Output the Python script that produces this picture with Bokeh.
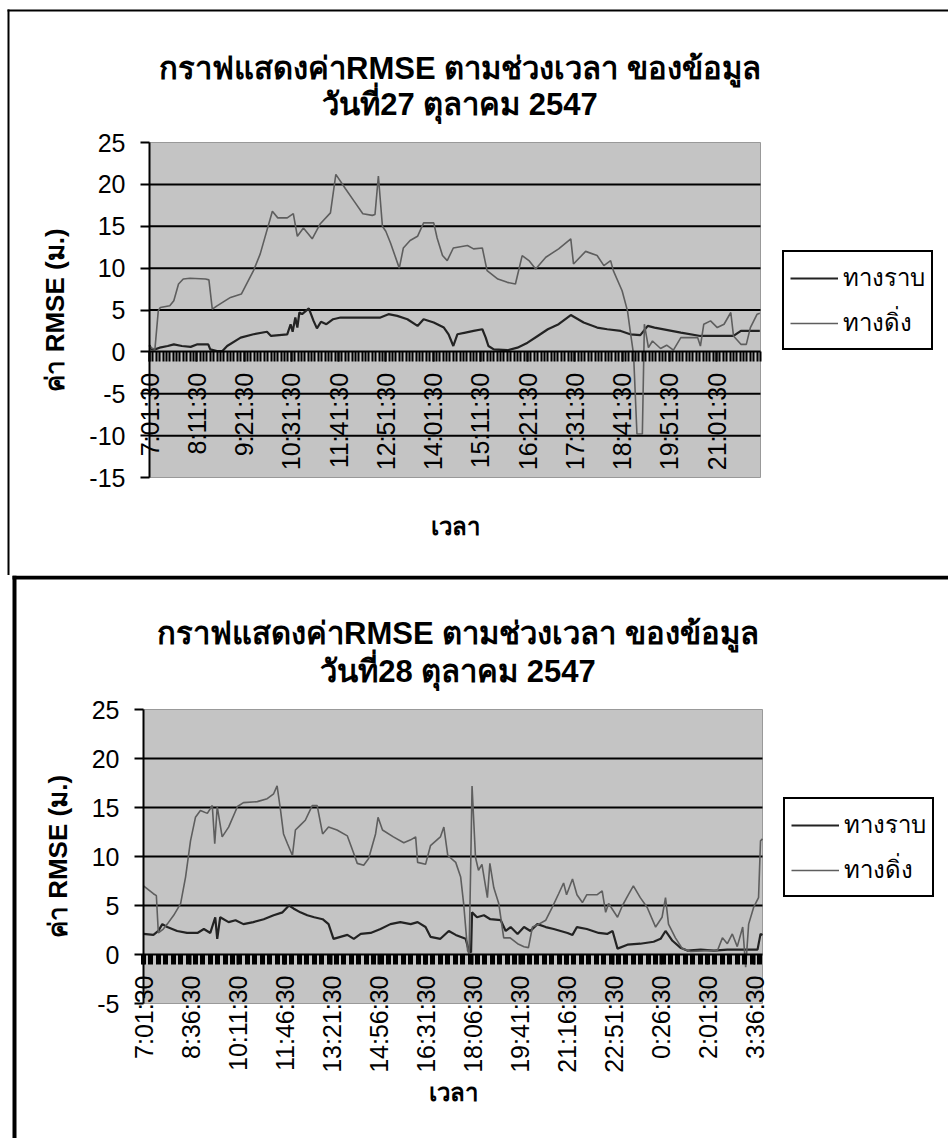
import math
from bokeh.plotting import figure
from bokeh.models import (ColumnDataSource, FixedTicker, Legend, LegendItem,
                          Label, Range1d, BoxAnnotation)
from bokeh.layouts import column
from bokeh.embed import file_html
from bokeh.resources import INLINE

# ---------------------------------------------------------------- text
TITLE_LINE = "กราฟแสดงค่าRMSE ตามช่วงเวลา ของข้อมูล"
TOP_DATE = "วันที่27 ตุลาคม 2547"
BOTTOM_DATE = "วันที่28 ตุลาคม 2547"
Y_LABEL = "ค่า RMSE (ม.)"
X_LABEL = "เวลา"
SERIES_NAMES = ["ทางราบ", "ทางดิ่ง"]

# ---------------------------------------------------------------- 27 Oct (minutes after 7:01:30)
TOP_TICK_LABELS = ["7:01:30", "8:11:30", "9:21:30", "10:31:30", "11:41:30",
                   "12:51:30", "14:01:30", "15:11:30", "16:21:30", "17:31:30",
                   "18:41:30", "19:51:30", "21:01:30"]
TOP_TICK_STEP = 70
TOP_SPAN = 905

top_horiz_t = [0, 3, 8, 15, 27, 36, 48, 61, 71, 87, 90, 100, 108, 115, 135, 154,
               174, 180, 204, 209, 212, 216, 219, 222, 226, 236, 243, 248, 254,
               262, 272, 283, 342, 354, 367, 382, 397, 406, 421, 436, 443, 450,
               456, 468, 480, 493, 498, 502, 510, 530, 545, 560, 575, 590, 606,
               624, 643, 663, 678, 698, 712, 727, 738, 748, 787, 816, 865, 876,
               904]
top_horiz_v = [0.8, 0.3, 0.3, 0.5, 0.7, 0.9, 0.7, 0.6, 0.9, 0.9, 0.3, 0.1, 0.1,
               0.7, 1.7, 2.1, 2.4, 1.9, 2.1, 3.3, 2.4, 4.1, 2.9, 4.7, 4.5, 5.2,
               3.7, 2.8, 3.6, 3.3, 3.9, 4.1, 4.1, 4.5, 4.3, 3.9, 3.1, 3.9, 3.5,
               2.9, 2.1, 0.7, 2.1, 2.3, 2.5, 2.7, 1.7, 0.7, 0.3, 0.2, 0.5, 1.1,
               1.9, 2.7, 3.3, 4.4, 3.5, 2.9, 2.7, 2.5, 2.1, 2.0, 3.1, 2.9, 2.3,
               1.9, 1.9, 2.5, 2.5]

top_vert_t = [0, 2, 8, 13, 16, 30, 36, 43, 50, 60, 83, 88, 93, 100, 110, 120,
              136, 154, 164, 182, 190, 204, 213, 219, 228, 241, 253, 268, 276,
              290, 303, 316, 330, 334, 339, 345, 350, 357, 370, 376, 386, 397,
              406, 421, 426, 434, 441, 450, 471, 480, 493, 500, 516, 530, 542,
              552, 562, 572, 587, 606, 624, 628, 646, 663, 673, 683, 687, 700,
              708, 712, 717, 722, 730, 733, 739, 745, 757, 766, 776, 787, 812,
              816, 821, 831, 841, 851, 861, 865, 876, 884, 890, 900, 904]
top_vert_v = [0.7, 0.5, 0.3, 4.9, 5.3, 5.5, 6.1, 8.1, 8.7, 8.8, 8.7, 8.6, 5.1,
              5.5, 6.0, 6.5, 6.9, 9.7, 11.7, 16.8, 16.0, 16.0, 16.5, 13.8, 14.8,
              13.5, 15.3, 16.6, 21.2, 19.5, 18.0, 16.5, 16.3, 16.4, 21.0, 15.0,
              14.4, 13.0, 10.0, 12.4, 13.3, 13.8, 15.4, 15.4, 13.6, 11.5, 10.9,
              12.4, 12.7, 12.3, 12.4, 9.7, 8.7, 8.3, 8.1, 11.5, 10.9, 9.9, 11.3,
              12.3, 13.5, 10.5, 12.0, 11.5, 10.3, 10.9, 9.7, 7.3, 4.9, 2.5,
              -0.3, -9.8, -9.8, 3.3, 0.5, 1.3, 0.4, 0.8, 0.2, 1.7, 1.7, 0.7,
              3.3, 3.7, 2.9, 3.3, 4.7, 1.9, 0.9, 0.9, 2.9, 4.5, 4.6]

# ---------------------------------------------------------------- 28 Oct (minutes after 7:01:30)
BOTTOM_TICK_LABELS = ["7:01:30", "8:36:30", "10:11:30", "11:46:30", "13:21:30",
                      "14:56:30", "16:31:30", "18:06:30", "19:41:30", "21:16:30",
                      "22:51:30", "0:26:30", "2:01:30", "3:36:30"]
BOTTOM_TICK_STEP = 95
BOTTOM_SPAN = 1251

bot_horiz_t = [0, 20, 30, 38, 48, 68, 88, 109, 122, 135, 145, 149, 155, 172,
               186, 202, 222, 243, 263, 281, 294, 303, 317, 331, 345, 362, 374,
               384, 398, 412, 425, 439, 459, 479, 499, 519, 540, 554, 570, 580,
               600, 617, 631, 651, 657, 662, 664, 674, 688, 701, 722, 732, 742,
               756, 769, 782, 796, 813, 829, 857, 867, 876, 896, 920, 937, 948,
               958, 978, 1004, 1031, 1045, 1055, 1069, 1085, 1099, 1126, 1153,
               1180, 1207, 1241, 1247, 1251]
bot_horiz_v = [2.1, 2.0, 2.4, 3.1, 2.8, 2.4, 2.2, 2.2, 2.6, 2.2, 3.8, 1.6, 3.8,
               3.3, 3.5, 3.1, 3.3, 3.6, 4.0, 4.3, 5.0, 4.7, 4.3, 4.0, 3.8, 3.6,
               3.1, 1.6, 1.8, 2.0, 1.6, 2.1, 2.2, 2.6, 3.1, 3.3, 3.1, 3.3, 2.8,
               1.8, 1.6, 2.4, 2.0, 1.6, 0.5, 0.2, 4.3, 3.8, 4.0, 3.6, 3.5, 2.4,
               2.8, 2.1, 2.8, 2.4, 3.1, 2.8, 2.6, 2.2, 2.0, 2.8, 2.6, 2.2, 2.1,
               2.4, 0.6, 1.0, 1.1, 1.3, 1.6, 2.4, 1.4, 0.7, 0.4, 0.5, 0.4, 0.5,
               0.5, 0.5, 2.1, 2.0]

bot_vert_t = [0, 20, 26, 30, 40, 48, 61, 75, 85, 95, 105, 115, 129, 139, 144,
              149, 159, 172, 190, 202, 230, 250, 263, 270, 277, 283, 291, 301,
              307, 317, 327, 341, 351, 362, 374, 391, 412, 425, 432, 445, 455,
              469, 474, 483, 505, 526, 540, 550, 554, 570, 580, 600, 607, 615,
              631, 641, 647, 655, 658, 661, 664, 671, 677, 684, 695, 700, 708,
              718, 728, 741, 756, 769, 778, 786, 799, 813, 826, 839, 849, 855,
              867, 876, 887, 896, 917, 927, 934, 940, 958, 968, 980, 990, 1004,
              1018, 1035, 1048, 1055, 1061, 1075, 1089, 1106, 1140, 1160, 1170,
              1180, 1190, 1200, 1211, 1217, 1223, 1233, 1243, 1247, 1251]
bot_vert_v = [7.0, 6.2, 6.0, 2.2, 2.6, 3.1, 4.0, 5.2, 7.9, 11.6, 14.0, 14.7,
              14.4, 15.2, 11.3, 15.1, 12.0, 13.0, 15.1, 15.5, 15.6, 15.9, 16.4,
              17.2, 14.7, 12.3, 11.3, 10.1, 12.7, 13.2, 13.7, 15.2, 15.2, 12.3,
              13.0, 12.7, 12.1, 10.3, 9.3, 9.1, 9.8, 12.3, 14.0, 12.7, 12.0,
              11.4, 11.7, 12.0, 9.4, 9.2, 11.1, 12.0, 13.0, 10.1, 9.4, 7.9, 5.2,
              0.4, 0.1, 8.3, 17.2, 9.9, 8.6, 9.2, 5.8, 9.3, 6.8, 5.2, 1.7, 1.7,
              1.1, 0.8, 0.7, 2.8, 3.1, 3.5, 4.8, 6.2, 7.3, 6.1, 7.7, 6.1, 5.3,
              6.1, 6.1, 6.5, 4.3, 5.2, 3.8, 5.0, 6.1, 7.0, 5.8, 4.8, 2.8, 3.8,
              5.8, 3.1, 1.7, 0.6, 0.3, 0.4, 0.4, 1.7, 1.1, 2.1, 0.8, 2.8, -1.3,
              3.1, 4.8, 5.8, 11.6, 11.8]

# ---------------------------------------------------------------- styling
PLOT_FILL = "#c4c4c4"
HORIZ_COLOR = "#232323"
VERT_COLOR = "#5e5e5e"
FONT = "Liberation Sans"


def screen_bar(left, right, top, bottom):
    """Solid black strip given in screen pixels (origin at canvas bottom-left)."""
    return BoxAnnotation(left=left, right=right, top=top, bottom=bottom,
                         left_units="screen", right_units="screen",
                         top_units="screen", bottom_units="screen",
                         fill_color="black", fill_alpha=1.0, line_alpha=0)


def build_chart(date_text, tick_labels, tick_step, span, minor_step, minor_width,
                y_low, horiz, vert, size, area, title_y, xlabel_standoff,
                legend_pos, frame_box):
    """One chart on a canvas-filling frame; `area` is the plot area in pixels
    (left, right, top, bottom) measured from the canvas top-left."""
    w, h = size
    a_left, a_right, a_top, a_bottom = area
    kx = (a_right - a_left) / span            # pixels per minute
    ky = (a_bottom - a_top) / (25 - y_low)    # pixels per metre
    x_rng = Range1d(-a_left / kx, span + (w - a_right) / kx)
    y_rng = Range1d(y_low - (h - a_bottom) / ky, 25 + a_top / ky)

    p = figure(width=w, height=h, output_backend="svg", toolbar_location=None,
               x_range=x_rng, y_range=y_rng,
               min_border_left=0, min_border_right=0,
               min_border_top=0, min_border_bottom=0)
    p.background_fill_color = "white"
    p.border_fill_color = "white"
    p.outline_line_color = None
    p.grid.visible = False

    # grey plot area
    p.add_layout(BoxAnnotation(left=0, right=span, bottom=y_low, top=25,
                               fill_color=PLOT_FILL, fill_alpha=1.0,
                               line_color="#999999", line_alpha=1.0, line_width=1,
                               level="underlay"))

    # horizontal gridlines at the value ticks
    y_ticks = list(range(y_low, 26, 5))
    grid_vals = [v for v in y_ticks if v not in (y_low, 0, 25)]
    p.segment(x0=[0] * len(grid_vals), x1=[span] * len(grid_vals),
              y0=grid_vals, y1=grid_vals, line_color="black", line_width=2)

    # value axis
    yax = p.yaxis[0]
    yax.fixed_location = 0
    yax.bounds = (y_low, 25)
    yax.ticker = FixedTicker(ticks=y_ticks)
    yax.major_label_overrides = {v: str(v) for v in y_ticks}
    yax.axis_line_width = 2
    yax.major_tick_line_width = 2
    yax.major_tick_out = 9
    yax.major_tick_in = 0
    yax.minor_tick_line_color = None
    yax.major_label_standoff = 15
    yax.major_label_text_font = FONT
    yax.major_label_text_font_size = "25px"
    yax.major_label_text_color = "black"
    yax.axis_label = Y_LABEL
    yax.axis_label_text_font = FONT
    yax.axis_label_text_font_size = "26px"
    yax.axis_label_text_font_style = "bold"
    yax.axis_label_text_color = "black"
    yax.axis_label_standoff = 16

    # time axis crossing at zero
    ticks = [i * tick_step for i in range(len(tick_labels))]
    xax = p.xaxis[0]
    xax.fixed_location = 0
    xax.bounds = (0, span)
    xax.ticker = FixedTicker(ticks=ticks,
                             minor_ticks=list(range(0, span + 1, minor_step)))
    xax.major_label_overrides = {t: lab for t, lab in zip(ticks, tick_labels)}
    xax.major_label_orientation = math.pi / 2
    xax.major_label_standoff = 11
    xax.major_label_text_font = FONT
    xax.major_label_text_font_size = "25px"
    xax.major_label_text_color = "black"
    xax.axis_line_width = 2
    xax.major_tick_out = 10
    xax.major_tick_in = 0
    xax.major_tick_line_width = 2
    xax.minor_tick_out = 10
    xax.minor_tick_in = 0
    xax.minor_tick_line_width = minor_width
    xax.axis_label = X_LABEL
    xax.axis_label_text_font = FONT
    xax.axis_label_text_font_size = "24px"
    xax.axis_label_text_font_style = "bold"
    xax.axis_label_text_color = "black"
    xax.axis_label_standoff = xlabel_standoff

    r_h = p.line(x="t", y="v", source=ColumnDataSource(dict(t=horiz[0], v=horiz[1])),
                 line_color=HORIZ_COLOR, line_width=2.2)
    r_v = p.line(x="t", y="v", source=ColumnDataSource(dict(t=vert[0], v=vert[1])),
                 line_color=VERT_COLOR, line_width=1.6)

    # two-line title, centred over the plot area
    cx = (a_left + a_right) / 2 + 5
    for text, ty in zip([TITLE_LINE, date_text], title_y):
        p.add_layout(Label(x=cx, y=h - ty, x_units="screen", y_units="screen",
                           text=text, text_align="center", text_baseline="middle",
                           text_font=FONT, text_font_size="31px",
                           text_font_style="bold", text_color="black"))

    legend = Legend(items=[LegendItem(label=SERIES_NAMES[0], renderers=[r_h]),
                           LegendItem(label=SERIES_NAMES[1], renderers=[r_v])],
                    location=(legend_pos[0], h - legend_pos[1]),
                    border_line_color="black", border_line_width=2,
                    border_line_alpha=1.0,
                    background_fill_color="white", background_fill_alpha=1.0,
                    label_text_font=FONT, label_text_font_size="24px",
                    label_text_color="black",
                    glyph_width=48, glyph_height=34, label_height=34,
                    label_standoff=5, padding=6, spacing=6, margin=0)
    p.add_layout(legend)

    # page frame: left and top rules of the box around the chart
    bx, by, bw = frame_box
    half = bw / 2
    p.add_layout(screen_bar(bx - half, bx + half, h - by + half, -5))
    p.add_layout(screen_bar(bx - half, w + 5, h - by + half, h - by - half))
    return p


fig1 = build_chart(TOP_DATE, TOP_TICK_LABELS, TOP_TICK_STEP, TOP_SPAN, 5, 2,
                   -15, (top_horiz_t, top_horiz_v), (top_vert_t, top_vert_v),
                   (948, 575), (149, 760, 142, 477), (68, 104), 40,
                   (782, 350), (8, 10, 2))
fig2 = build_chart(BOTTOM_DATE, BOTTOM_TICK_LABELS, BOTTOM_TICK_STEP, BOTTOM_SPAN,
                   15, 5, -5, (bot_horiz_t, bot_horiz_v), (bot_vert_t, bot_vert_v),
                   (948, 563), (143, 762, 134, 428), (58, 96), 3,
                   (783, 322), (14, 2, 4))

layout = column(fig1, fig2, spacing=0)
open("out.html", "w").write(file_html(layout, INLINE))
